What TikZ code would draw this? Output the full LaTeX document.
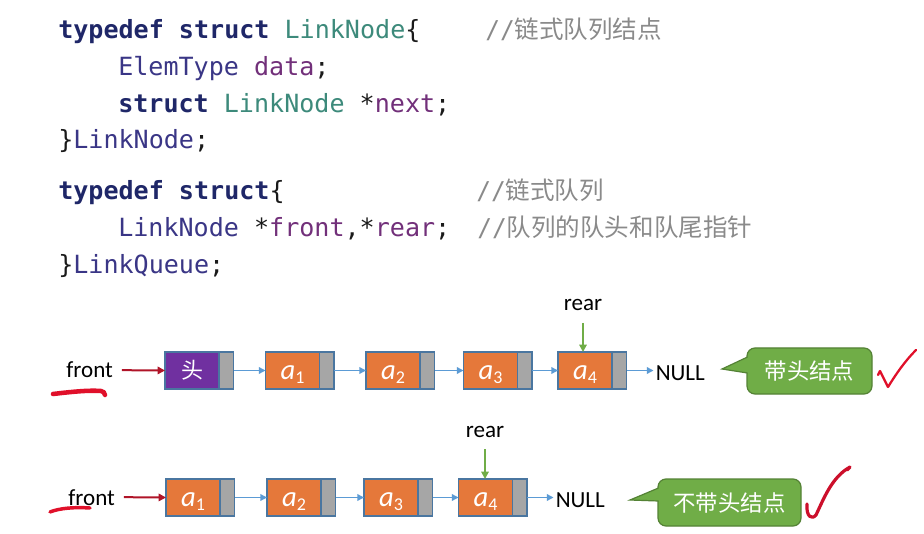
\documentclass[tikz,border=0pt]{standalone}
\usepackage{fontspec}
\setmainfont{Carlito}
\newfontfamily\codefont{DejaVu Sans Mono}
\newfontfamily\cjk{Noto Sans CJK SC}
\usetikzlibrary{arrows.meta}
\definecolor{kwc}{HTML}{1F2768}
\definecolor{tagc}{HTML}{3D8A7B}
\definecolor{typc}{HTML}{3A3686}
\definecolor{varc}{HTML}{72307A}
\definecolor{cmc}{HTML}{8A8A8A}
\definecolor{punc}{HTML}{1A1A1A}
\definecolor{orng}{HTML}{E5783A}
\definecolor{purp}{HTML}{7030A0}
\definecolor{grayc}{HTML}{A6A6A6}
\definecolor{bordc}{HTML}{4A76A0}
\definecolor{linkc}{HTML}{5B9BD5}
\definecolor{frontc}{HTML}{B01428}
\definecolor{rearc}{HTML}{70AD47}
\definecolor{callg}{HTML}{70AD47}
\definecolor{callb}{HTML}{548235}
\definecolor{penred}{HTML}{E0102A}
\definecolor{penredb}{HTML}{CC0F2B}
\newcommand\ckw[1]{{\bfseries\color{kwc}#1}}
\newcommand\ctag[1]{{\color{tagc}#1}}
\newcommand\ctyp[1]{{\color{typc}#1}}
\newcommand\cvar[1]{{\color{varc}#1}}
\newcommand\csub[1]{\raisebox{-3pt}{\fontsize{13.5}{13.5}\selectfont\upshape #1}}
\begin{document}
\begin{tikzpicture}[x=0.75pt,y=-0.75pt,
  code/.style={anchor=base west, inner sep=0pt, text=punc, font=\codefont\fontsize{18.8}{22}\selectfont},
  cmt/.style={anchor=base west, inner sep=0pt, text=cmc, font=\fontsize{18.4}{22}\selectfont},
  lbl/.style={text=black, font=\fontsize{17.3}{20}\selectfont},
  dpart/.style={draw=bordc, line width=0.9pt, fill=orng, minimum width=40.5pt, minimum height=27.75pt,
    inner sep=0pt, outer sep=0pt, text=white, font=\fontsize{21.5}{21.5}\selectfont\itshape,
    text height=12.75pt, text depth=0pt},
  hpart/.style={draw=bordc, line width=0.9pt, fill=purp, minimum width=40.5pt, minimum height=27.75pt,
    inner sep=0pt, outer sep=0pt, text=white, font=\cjk\fontsize{16.5}{20}\selectfont},
  ppart/.style={draw=bordc, line width=0.9pt, fill=grayc, minimum width=10.9pt, minimum height=27.75pt,
    inner sep=0pt, outer sep=0pt, anchor=west},
  link/.style={draw=linkc, line width=1pt, -{Triangle[length=5pt,width=5pt]}},
  frontarr/.style={draw=frontc, line width=1.5pt, -{Triangle[length=5.5pt,width=5.5pt]}},
  reararr/.style={draw=rearc, line width=1.5pt, -{Triangle[length=5.5pt,width=5.5pt]}},
  callbox/.style={draw=callb, line width=0.9pt, fill=callg, rounded corners=6pt, inner sep=0pt,
    text=white, font=\cjk\fontsize{16.8}{20}\selectfont},
  pen/.style={line cap=round, line join=round}]
\fill[white] (0,0) rectangle (924,534);
\useasboundingbox (0,0) rectangle (924,534);

% code
\node[code] (c1) at (58,39) {\ckw{typedef struct} \ctag{LinkNode}\{};
\node[cmt] (m1) at (485,39) {{\codefont //}{\cjk 链式队列结点}};
\node[code] (c2) at (118,76) {\ctyp{ElemType} \cvar{data};};
\node[code] (c3) at (118,113) {\ckw{struct} \ctag{LinkNode} *\cvar{next};};
\node[code] (c4) at (58,149) {\}\ctyp{LinkNode};};
\node[code] (c5) at (58,200) {\ckw{typedef struct}\{};
\node[cmt] (m5) at (476,200) {{\codefont //}{\cjk 链式队列}};
\node[code] (c6) at (118,237) {\ctyp{LinkNode} *\cvar{front},*\cvar{rear};};
\node[cmt] (m6) at (477,237) {{\codefont //}{\cjk 队列的队头和队尾指针}};
\node[code] (c7) at (58,274) {\}\ctyp{LinkQueue};};

% row 1
\node[lbl, anchor=base west, inner xsep=6.5pt] (front1) at (57.5,378) {front};
\node[hpart] (h0) at (192,370.5) {头};
\node[ppart] (p0) at (h0.east) {};
\node[dpart] (a11) at (292.5,370.5) {a\csub{1}};
\node[ppart] (p1) at (a11.east) {};
\node[dpart] (a12) at (393,370.5) {a\csub{2}};
\node[ppart] (p2) at (a12.east) {};
\node[dpart] (a13) at (490.5,370.5) {a\csub{3}};
\node[ppart] (p3) at (a13.east) {};
\node[dpart] (a14) at (585,370.5) {a\csub{4}};
\node[ppart] (p4) at (a14.east) {};
\node[lbl, anchor=base west, inner xsep=1.5pt] (null1) at (653.5,380) {NULL};
\node[lbl, anchor=base, inner ysep=8.5pt] (rear1) at (583,311) {rear};
\draw[frontarr] (front1.east) -- (h0.west);
\draw[link] (p0.east) -- (a11.west);
\draw[link] (p1.east) -- (a12.west);
\draw[link] (p2.east) -- (a13.west);
\draw[link] (p3.east) -- (a14.west);
\draw[link] (p4.east) -- (p4.east -| null1.west);
\draw[reararr] (rear1.south) -- (rear1.south |- a14.north);

% callout 1
\node[callbox, minimum width=93.75pt, minimum height=34.5pt] (call1) at (809.5,371) {带头结点};
\coordinate (t1) at (722,369);
\coordinate (t1a) at (747.5,357);
\coordinate (t1b) at (747.5,373);
\fill[callg] (t1a) -- (t1) -- (t1b) -- (752,373) -- (752,357) -- cycle;
\draw[callb, line width=0.9pt, line join=miter] (t1a) -- (t1) -- (t1b);

% row 2
\node[lbl, anchor=base west, inner xsep=6.5pt] (front2) at (59.5,505) {front};
\node[dpart] (b1) at (193,497.5) {a\csub{1}};
\node[ppart] (q1) at (b1.east) {};
\node[dpart] (b2) at (294,497.5) {a\csub{2}};
\node[ppart] (q2) at (b2.east) {};
\node[dpart] (b3) at (391,497.5) {a\csub{3}};
\node[ppart] (q3) at (b3.east) {};
\node[dpart] (b4) at (485.5,497.5) {a\csub{4}};
\node[ppart] (q4) at (b4.east) {};
\node[lbl, anchor=base west, inner xsep=1.5pt] (null2) at (553.5,507) {NULL};
\node[lbl, anchor=base, inner ysep=9pt] (rear2) at (485,437) {rear};
\draw[frontarr] (front2.east) -- (b1.west);
\draw[link] (q1.east) -- (b2.west);
\draw[link] (q2.east) -- (b3.west);
\draw[link] (q3.east) -- (b4.west);
\draw[link] (q4.east) -- (q4.east -| null2.west);
\draw[reararr] (rear2.south) -- (rear2.south |- b4.north);

% callout 2
\node[callbox, minimum width=107.25pt, minimum height=35.25pt] (call2) at (729.5,502.5) {不带头结点};
\coordinate (t2) at (630,500);
\coordinate (t2a) at (658.5,488);
\coordinate (t2b) at (658.5,501);
\fill[callg] (t2a) -- (t2) -- (t2b) -- (663,501) -- (663,488) -- cycle;
\draw[callb, line width=0.9pt, line join=miter] (t2a) -- (t2) -- (t2b);

% hand-drawn marks
\draw[pen, penred, line width=3.4pt] (53,394) .. controls (70,392) and (88,390) .. (101,391) .. controls (104,392) .. (105,395);
\draw[pen, penred, line width=2.6pt] (50,512) .. controls (60,508) and (75,507) .. (90,508);
\draw[pen, penred, line width=1.7pt] (878,375) -- (880,371) -- (888,387) .. controls (896,374) and (905,361) .. (916,350);
\draw[pen, penredb, line width=2.4pt] (807,504) .. controls (806,517) and (812,520) .. (816,515) .. controls (824,498) and (832,477) .. (850,467) -- (847,470);
\end{tikzpicture}
\end{document}
